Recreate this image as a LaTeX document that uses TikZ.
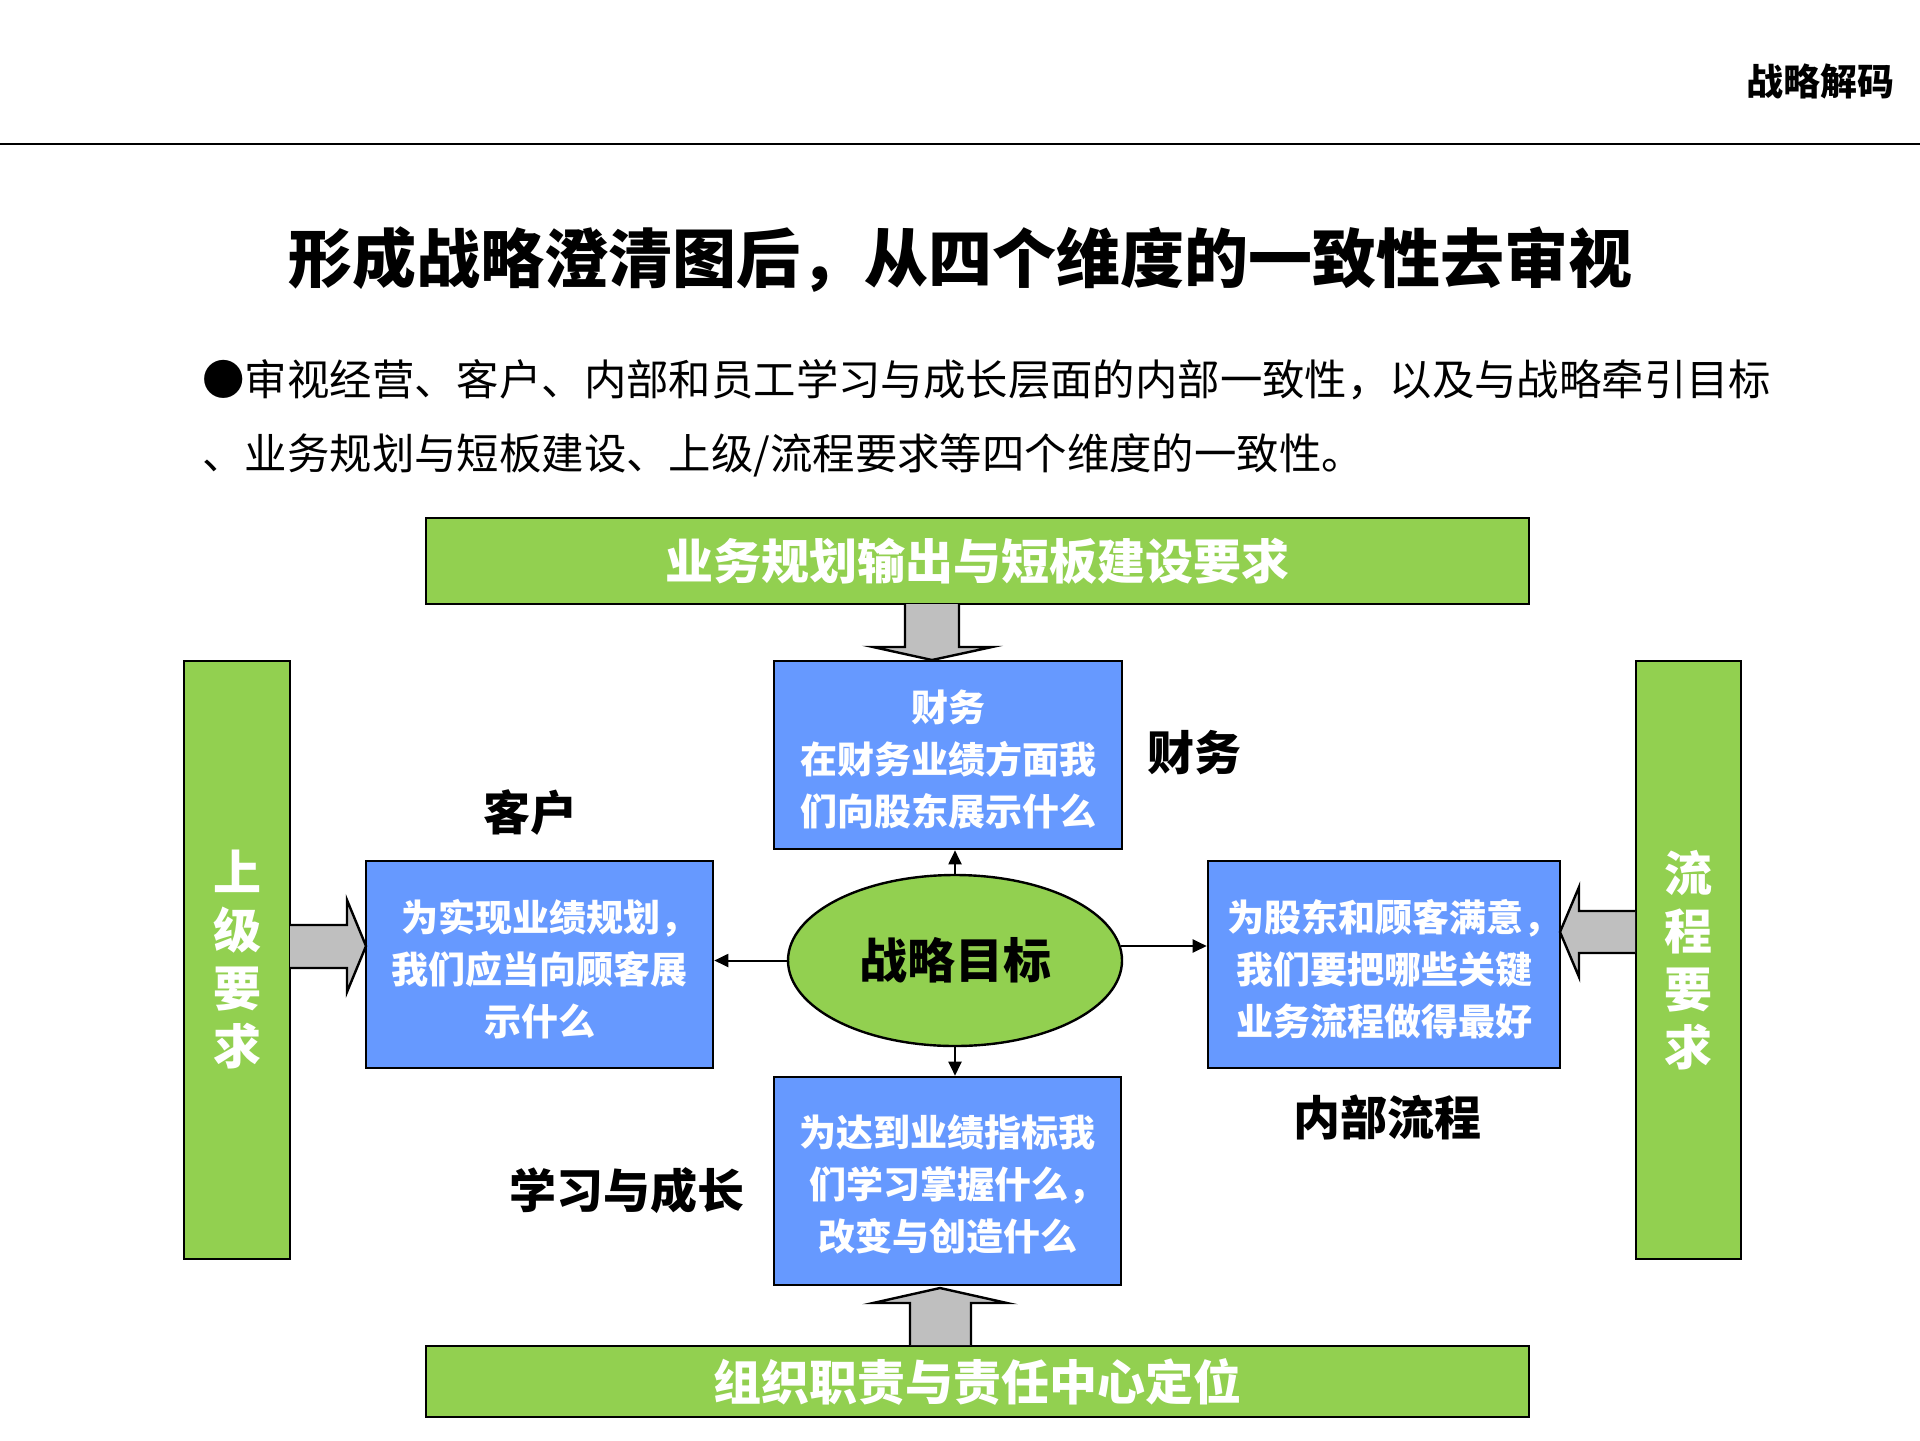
\documentclass[tikz,border=0pt]{standalone}
\usepackage{fontspec}
\setmainfont{Noto Sans CJK SC}
\usetikzlibrary{arrows.meta,shapes.geometric}
\definecolor{gbar}{HTML}{92D050}
\definecolor{bbox}{HTML}{6699FF}
\definecolor{garrow}{HTML}{BFBFBF}
\newcommand\myfs[2]{\fontsize{#1}{#2}\selectfont}
\newcommand\ncomma{\makebox[0.45em][l]{，}}
\tikzset{
  greenbar/.style={draw=black, line width=1.3pt, fill=gbar, inner sep=0pt, text=white, font=\myfs{24}{29}\bfseries, align=center},
  bluebox/.style={draw=black, line width=1.3pt, fill=bbox, inner sep=0pt},
  boxtext/.style={inner sep=0pt, text=white, font=\myfs{18.5}{26}\bfseries, align=center},
  lbl/.style={inner sep=0pt, font=\myfs{23.5}{28}\bfseries},
  fatarrow/.style={draw=black, line width=1.2pt, fill=garrow, line join=miter},
  thinarrow/.style={line width=1pt, -{Triangle[length=7pt,width=6.5pt]}},
}
\begin{document}
\begin{tikzpicture}[x=0.5pt,y=-0.5pt]
\useasboundingbox (0,0) rectangle (1920,1440);
% header
\node[inner sep=0pt, font=\myfs{18.5}{22}\bfseries] (hdr) at (1820,81) {战略解码};
\coordinate (hl) at (0,144);
\coordinate (hr) at (1920,144);
\draw[line width=1pt] (hl) -- (hr);
% title
\node[inner sep=0pt, font=\myfs{32}{38}\bfseries] (title) at (960,260) {形成战略澄清图后，从四个维度的一致性去审视};
% bullet text
\node[inner sep=0pt, anchor=west, font=\myfs{21.2}{26}] (b1) at (202,380) {●审视经营、客户、内部和员工学习与成长层面的内部一致性，以及与战略牵引目标};
\node[inner sep=0pt, anchor=west, font=\myfs{21.2}{26}] (b2) at (202,455) {、业务规划与短板建设、上级/流程要求等四个维度的一致性。};
% bars
\node[greenbar, minimum width=551.5pt, minimum height=43pt] (topbar) at (977.5,561) {业务规划输出与短板建设要求};
\node[greenbar, minimum width=551.5pt, minimum height=35.5pt] (botbar) at (977.5,1381.5) {组织职责与责任中心定位};
\node[greenbar, minimum width=53pt, minimum height=299pt] (leftbar) at (237,960) {上\\级\\要\\求};
\node[greenbar, minimum width=52.5pt, minimum height=299pt] (rightbar) at (1688.5,960) {流\\程\\要\\求};
% blue boxes
\node[bluebox, minimum width=174pt, minimum height=94pt] (fin) at (948,755) {};
\node[bluebox, minimum width=173.5pt, minimum height=103.5pt] (cust) at (539.5,964.5) {};
\node[bluebox, minimum width=176pt, minimum height=103.5pt] (proc) at (1384,964.5) {};
\node[bluebox, minimum width=173.5pt, minimum height=104pt] (learn) at (947.5,1181) {};
\node[boxtext] (fint) at ([yshift=-2.5pt]fin.center) {财务\\在财务业绩方面我\\们向股东展示什么};
\node[boxtext] (custt) at ([yshift=-2.5pt]cust.center) {为实现业绩规划\ncomma\\我们应当向顾客展\\示什么};
\node[boxtext] (proct) at ([yshift=-2.5pt]proc.center) {为股东和顾客满意\ncomma\\我们要把哪些关键\\业务流程做得最好};
\node[boxtext] (learnt) at ([yshift=-1.5pt]learn.center) {为达到业绩指标我\\们学习掌握什么\ncomma\\改变与创造什么};
% goal ellipse
\node[ellipse, draw=black, line width=1.2pt, fill=gbar, inner sep=0pt, minimum width=167pt, minimum height=85.5pt, font=\myfs{24}{28}\bfseries] (goal) at (955,960.5) {战略目标};
% labels
\node[lbl] (lfin) at (1194.5,753) {财务};
\node[lbl] (lcust) at (530,813) {客户};
\node[lbl] (llearn) at (626.5,1191) {学习与成长};
\node[lbl] (lproc) at (1387.5,1117) {内部流程};
% thin arrows
\draw[thinarrow] (goal.north) -- (goal.north |- fin.south);
\draw[thinarrow] (goal.south) -- (goal.south |- learn.north);
\draw[thinarrow] (goal.west) -- (goal.west -| cust.east);
\draw[thinarrow] (goal.5) -- (goal.5 -| proc.west);
% fat arrows
\draw[fatarrow] (905,604) -- (905,647) -- (873,647) -- (932,660) -- (992,647) -- (959,647) -- (959,604);
\draw[fatarrow] (910,1345) -- (910,1303) -- (873,1303) -- (940,1288) -- (1007,1303) -- (971,1303) -- (971,1345);
\draw[fatarrow] (290,925) -- (347,925) -- (347,900) -- (366,946) -- (347,992) -- (347,968) -- (290,968);
\draw[fatarrow] (1635,911) -- (1579,911) -- (1579,887) -- (1560,932) -- (1579,977) -- (1579,953) -- (1635,953);
\end{tikzpicture}
\end{document}
